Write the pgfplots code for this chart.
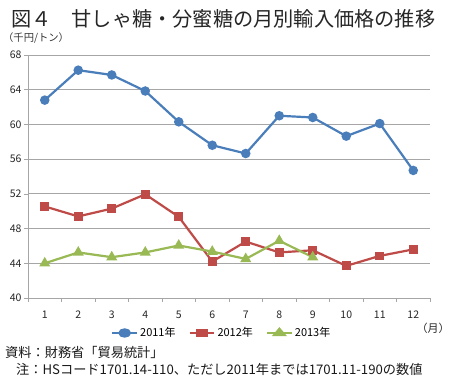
\documentclass[border=0pt]{standalone}
\usepackage{fontspec}
\setmainfont{Noto Sans CJK JP}
\usepackage{pgfplots}
\pgfplotsset{compat=1.18}
\definecolor{cblue}{HTML}{4A7EBB}
\definecolor{cred}{HTML}{BE4B48}
\definecolor{cgreen}{HTML}{98B954}
\definecolor{cgrid}{HTML}{A6A6A6}
\begin{document}
\begin{tikzpicture}
\useasboundingbox (0pt,0pt) rectangle (450pt,385pt);
\node[anchor=west,font=\fontsize{20.2}{22}\selectfont,text=black!85,inner sep=0pt] at (11pt,366pt) {図４　甘しゃ糖・分蜜糖の月別輸入価格の推移};
\node[anchor=west,font=\fontsize{10.3}{11}\selectfont,text=black!80,inner sep=0pt] at (3pt,347pt) {（千円/トン）};
\begin{axis}[
  at={(28pt,87pt)}, anchor=south west,
  scale only axis, width=402pt, height=243pt,
  xmin=0.5, xmax=12.5, ymin=40, ymax=68,
  xtick={1,...,12},
  minor xtick={0.5,1.5,...,12.5},
  ytick={40,44,...,68},
  major x tick style={draw=none},
  minor tick length=4pt,
  major tick length=4pt,
  tick align=outside,
  tick style={cgrid, line width=0.6pt},
  axis x line*=bottom, axis y line*=left,
  axis line style={cgrid, line width=0.8pt},
  ymajorgrids, grid style={cgrid, line width=0.8pt},
  /pgf/number format/assume math mode=true,
  ticklabel style={font=\fontsize{10.5}{12}\selectfont, text=black!85},
  yticklabel style={xshift=1pt},
  xticklabel style={yshift=-5pt},
  legend style={at={(0.482,-0.144)}, anchor=center, draw=none, fill=none,
    legend columns=3, font=\fontsize{11}{12}\selectfont,
    /tikz/every even column/.append style={column sep=11pt}},
  legend image post style={xscale=1.45},
  every axis plot/.append style={line width=2.2pt, mark size=3.6pt},
]
\addplot[cblue, mark=*, mark options={solid}] coordinates {
 (1,62.8) (2,66.25) (3,65.7) (4,63.85) (5,60.3) (6,57.6) (7,56.65) (8,61.0) (9,60.8) (10,58.65) (11,60.1) (12,54.7)};
\addlegendentry{2011年}
\addplot[cred, mark=square*, mark size=3.3pt] coordinates {
 (1,50.55) (2,49.4) (3,50.3) (4,51.95) (5,49.35) (6,44.2) (7,46.5) (8,45.25) (9,45.5) (10,43.7) (11,44.85) (12,45.6)};
\addlegendentry{2012年}
\addplot[cgreen, mark=triangle*, mark size=4.2pt] coordinates {
 (1,44.0) (2,45.25) (3,44.7) (4,45.25) (5,46.05) (6,45.35) (7,44.5) (8,46.6) (9,44.7)};
\addlegendentry{2013年}
\end{axis}
\node[font=\fontsize{11}{12}\selectfont,text=black!85,inner sep=0pt] at (433pt,57pt) {（月）};
\node[anchor=west,font=\fontsize{13.2}{14}\selectfont,text=black!90,inner sep=0pt] at (5pt,33pt) {資料：財務省「貿易統計」};
\node[anchor=west,font=\fontsize{13.2}{14}\selectfont,text=black!90,inner sep=0pt] at (16pt,16pt) {注：HSコード1701.14-110、ただし2011年までは1701.11-190の数値};
\end{tikzpicture}
\end{document}
